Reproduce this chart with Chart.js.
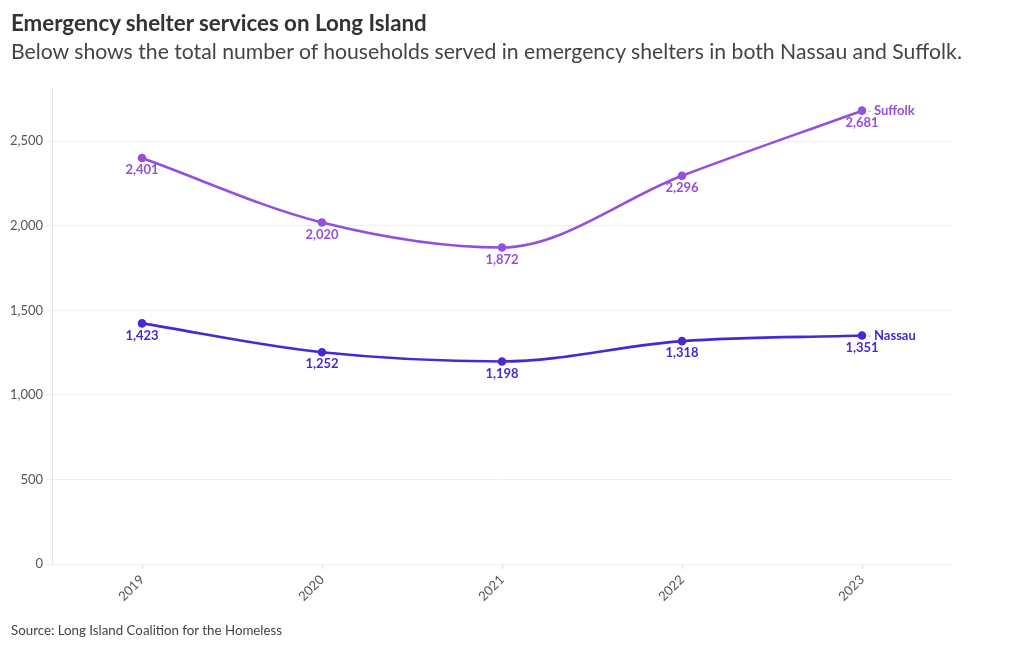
<!DOCTYPE html>
<html>
<head>
<meta charset="utf-8">
<script src="https://cdn.jsdelivr.net/npm/chart.js@4"></script>
<style>
  body { margin: 0; background: #fff; font-family: Lato, "Noto Sans", sans-serif; }
  #wrap { position: relative; width: 1020px; height: 650px; }
  #title { position: absolute; left: 11px; top: 9px; font-size: 22.3px; font-weight: bold; color: #333; }
  #subtitle { position: absolute; left: 11px; top: 38px; font-size: 21.2px; color: #444; }
  #source { position: absolute; left: 11px; top: 622px; font-size: 13.3px; color: #444; }
  canvas { position: absolute; left: 0; top: 0; }
</style>
</head>
<body>
<div id="wrap">
  <canvas id="chart" width="1020" height="650"></canvas>
  <div id="title">Emergency shelter services on Long Island</div>
  <div id="subtitle">Below shows the total number of households served in emergency shelters in both Nassau and Suffolk.</div>
  <div id="source">Source: Long Island Coalition for the Homeless</div>
</div>
<script>
const years = ["2019", "2020", "2021", "2022", "2023"];
const suffolk = [2401, 2020, 1872, 2296, 2681];
const nassau = [1423, 1252, 1198, 1318, 1351];
const yTicks = [0, 500, 1000, 1500, 2000, 2500];

const suffolkColor = "#9450dd";
const nassauColor = "#4a27d4";

const fmt = v => v.toLocaleString("en-US");

// value labels under each point + series name at the end
const labelPlugin = {
    id: "pointLabels",
    afterDatasetsDraw(chart) {
        const ctx = chart.ctx;
        ctx.save();
        chart.data.datasets.forEach((ds, i) => {
            const meta = chart.getDatasetMeta(i);
            ctx.fillStyle = ds.borderColor;
            ctx.font = "bold 13px Lato, 'Noto Sans', sans-serif";
            ctx.textAlign = "center";
            ctx.textBaseline = "middle";
            meta.data.forEach((pt, j) => {
                ctx.fillText(fmt(ds.data[j]), pt.x, pt.y + 12);
            });
            const last = meta.data[meta.data.length - 1];
            ctx.strokeStyle = "#bbb";
            ctx.lineWidth = 1;
            ctx.beginPath();
            ctx.moveTo(last.x + 6, last.y + 0.5);
            ctx.lineTo(last.x + 9, last.y + 0.5);
            ctx.stroke();
            ctx.textAlign = "left";
            ctx.font = "bold 13px Lato, 'Noto Sans', sans-serif";
            ctx.fillText(ds.label, last.x + 12, last.y);
        });
        ctx.restore();
    }
};

new Chart(document.getElementById("chart"), {
    type: "line",
    data: {
        labels: years,
        datasets: [
            {
                label: "Suffolk",
                data: suffolk,
                borderColor: suffolkColor,
                backgroundColor: suffolkColor,
                borderWidth: 2.6,
                pointRadius: 3,
                cubicInterpolationMode: "monotone"
            },
            {
                label: "Nassau",
                data: nassau,
                borderColor: nassauColor,
                backgroundColor: nassauColor,
                borderWidth: 2.6,
                pointRadius: 3,
                cubicInterpolationMode: "monotone"
            }
        ]
    },
    options: {
        responsive: false,
        animation: false,
        layout: { padding: { top: 88, right: 68, left: 0, bottom: 0 } },
        plugins: {
            legend: { display: false },
            tooltip: { enabled: false }
        },
        scales: {
            x: {
                offset: true,
                grid: { display: true, drawOnChartArea: false, offset: false, tickLength: 5, color: "#ddd" },
                border: { display: false },
                ticks: {
                    minRotation: 45, maxRotation: 45,
                    color: "#555",
                    font: { family: "Lato, 'Noto Sans', sans-serif", size: 13 }
                },
                afterFit: s => { s.height = 86; }
            },
            y: {
                min: 0,
                max: 2815,
                afterBuildTicks: s => { s.ticks = yTicks.map(v => ({ value: v })); },
                grid: { color: "#eeeeee", tickLength: 6 },
                border: { display: true, color: "#e6e6e6" },
                ticks: {
                    color: "#555",
                    padding: 3,
                    font: { family: "Lato, 'Noto Sans', sans-serif", size: 13 },
                    callback: v => fmt(v)
                },
                afterFit: s => { s.width = 52; }
            }
        }
    },
    plugins: [labelPlugin]
});
</script>
</body>
</html>
